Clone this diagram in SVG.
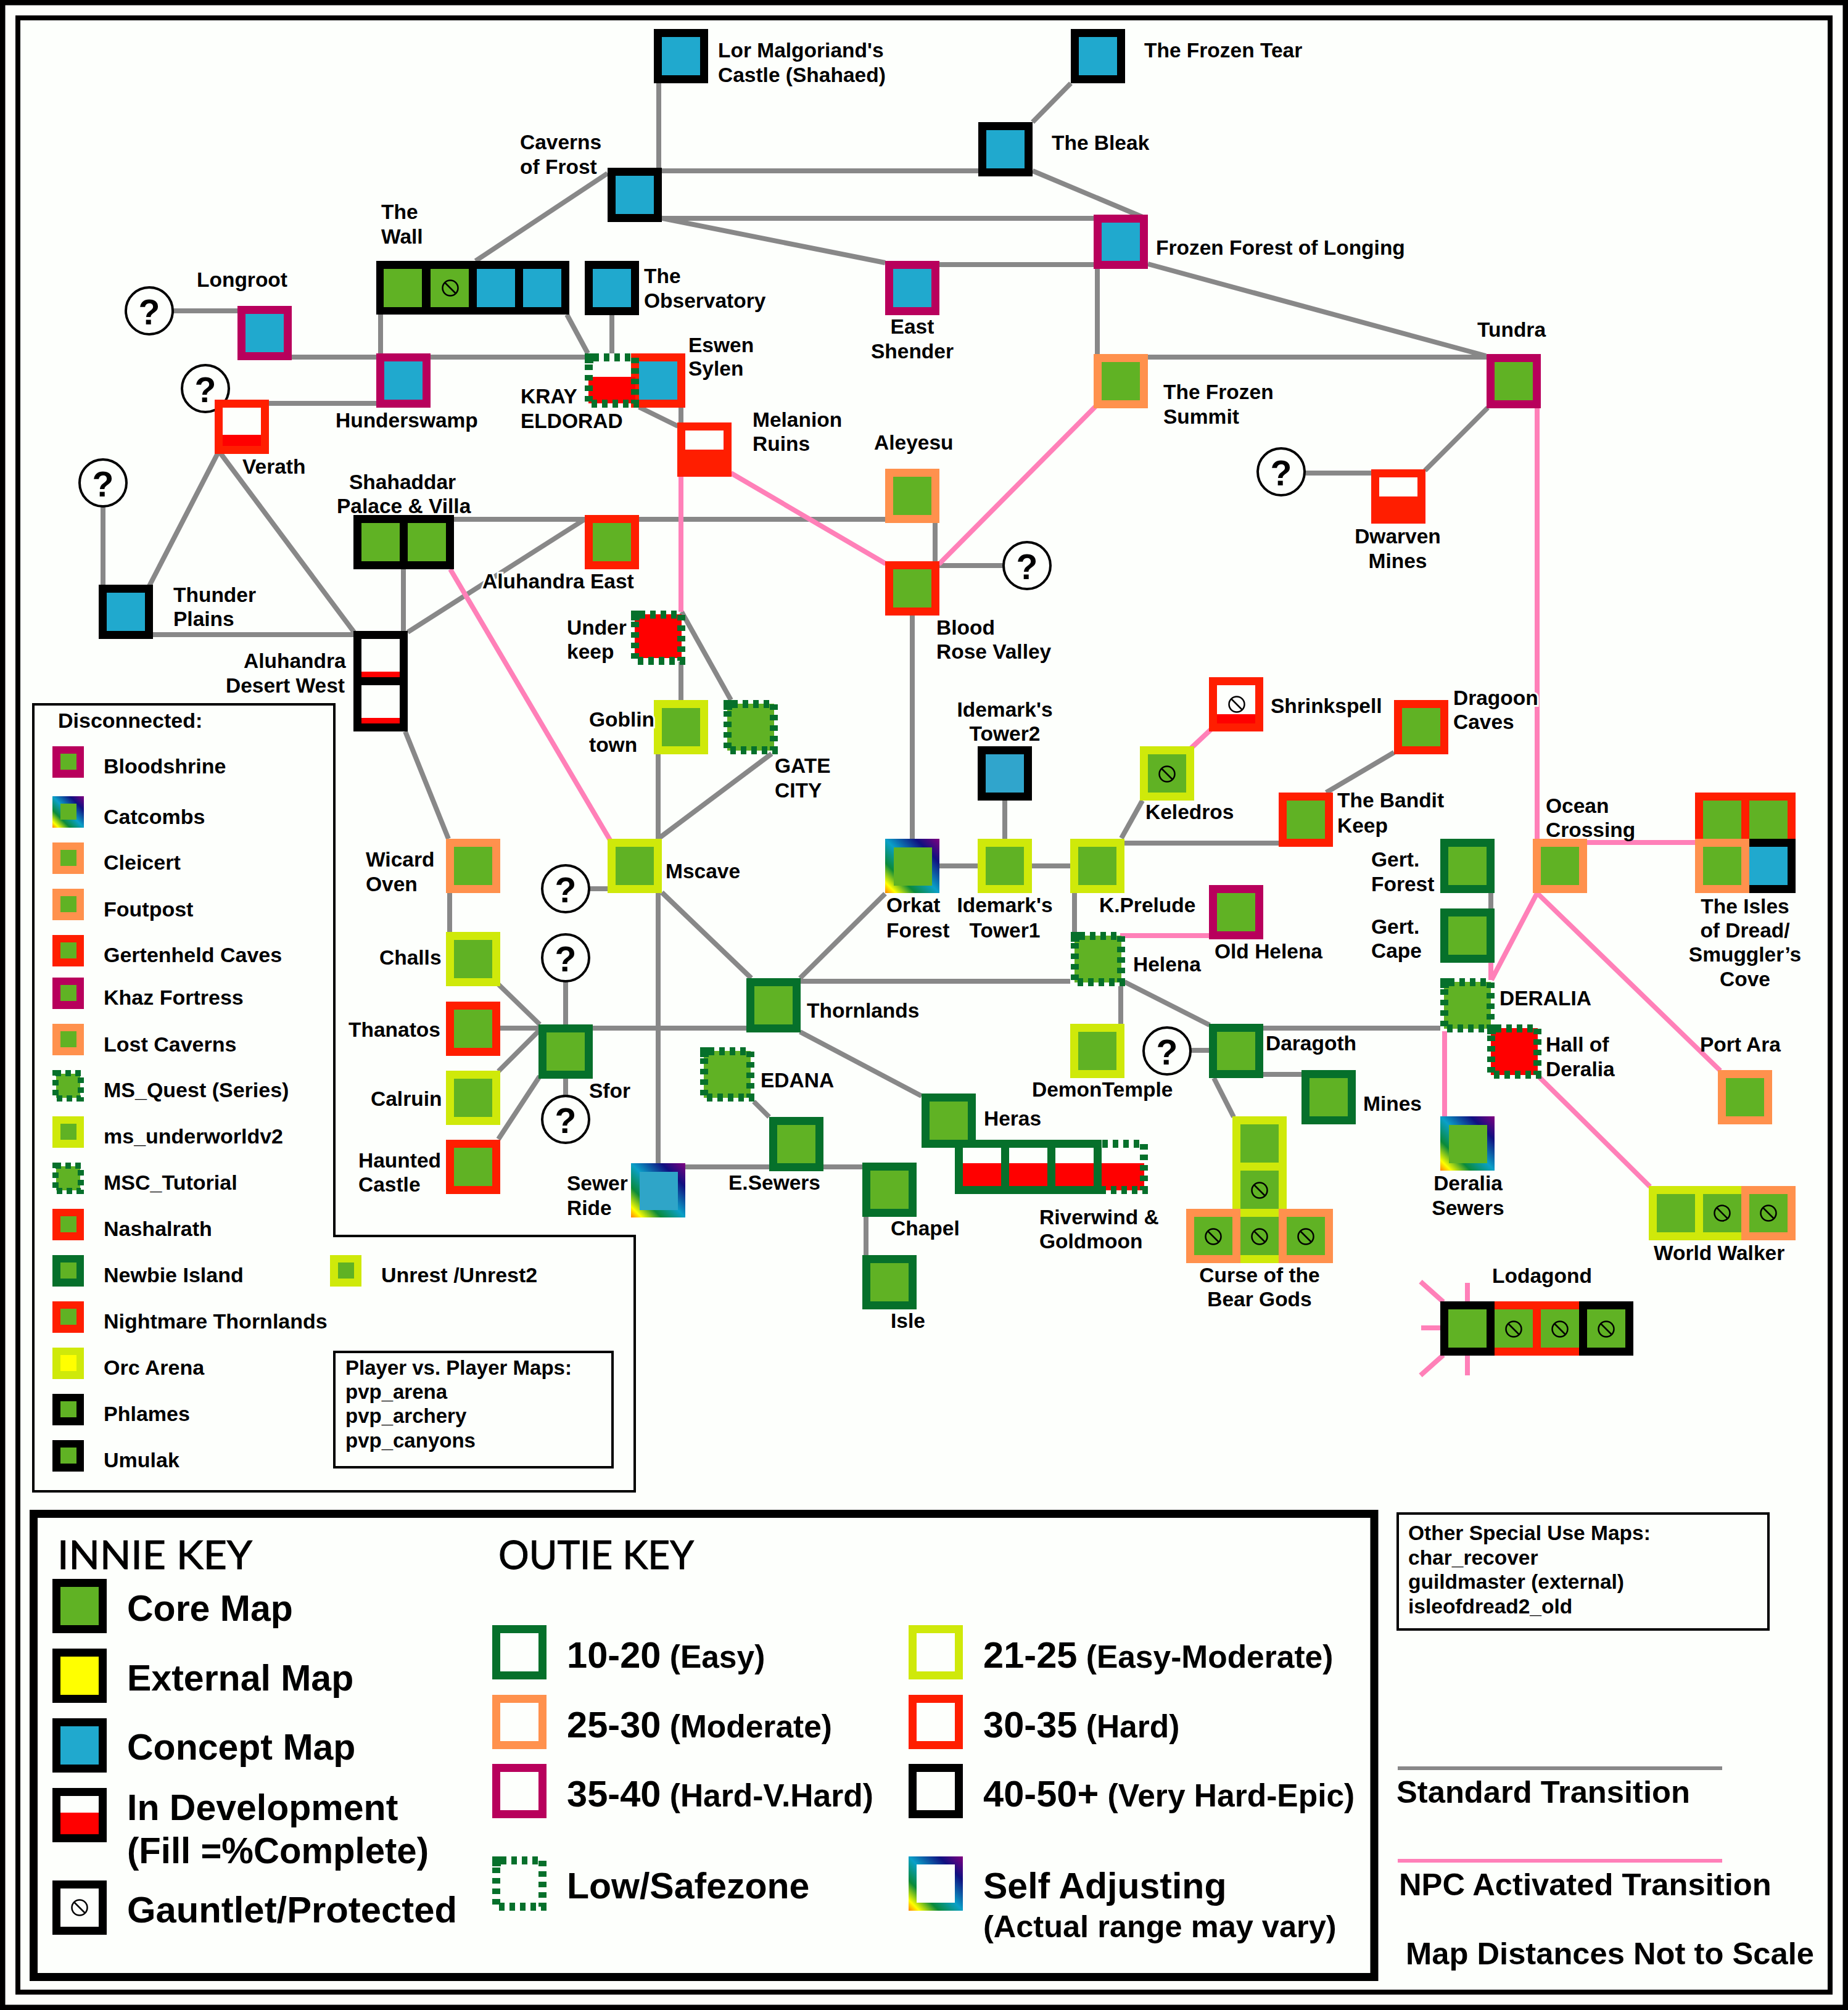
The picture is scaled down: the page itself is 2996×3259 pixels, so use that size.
<svg xmlns="http://www.w3.org/2000/svg" width="2996" height="3259" viewBox="0 0 2996 3259">
<style>
text{font-family:"Liberation Sans",Arial,sans-serif;font-weight:700;fill:#000;font-size:33.5px}
.c{text-anchor:middle}
.halo{paint-order:stroke;stroke:#fdfffc;stroke-width:6px}
.l{font-size:34px}
.p{font-size:33px}
.k{font-size:59px}
.n{font-size:59.6px}
.s{font-size:51.5px}
.a{font-size:50.5px}
.b{font-size:50.7px}
.hd{font-family:Lato,"Open Sans",sans-serif;font-weight:400;font-size:64px;stroke:#000;stroke-width:1px}
.q{font-size:57px;text-anchor:middle}
.o{width:88px;height:88px}
.i{width:62px;height:62px}
.lo{width:51px;height:51px}
.li{width:26px;height:26px}
.dg{fill:#06702b}.or{fill:#ff914d}.mg{fill:#b8005c}.rd{fill:#ff1e00}.lm{fill:#cfe90a}.bk{fill:#000}.rb{fill:url(#rb)}
.core{fill:#60b224}.blue{fill:#20a9ce}.white{fill:#fdfffc}.red{fill:#f00}.yel{fill:#ff0}
.d{width:75px;height:75px;fill:none;stroke:#06702b;stroke-width:13px;stroke-dasharray:9 8;stroke-dashoffset:9.5px}
.cn{width:14px;height:16px;fill:#06702b}
.dl{width:41px;height:41px;fill:none;stroke:#06702b;stroke-width:10px;stroke-dasharray:9 7}
.f{fill:none;stroke:#000;stroke-width:4px}
.qc{fill:#fdfffc;stroke:#000;stroke-width:4px}
#gray line{stroke:#888;stroke-width:8px}
#pink line{stroke:#ff80b8;stroke-width:8px}
.pl{stroke:#ff80b8;stroke-width:6px}
.gl{stroke:#888;stroke-width:6px}
</style>
<defs>
<linearGradient id="rb" x1="0" y1="1" x2="1" y2="0">
<stop offset="0" stop-color="#ff8000"/><stop offset=".1" stop-color="#ff0"/><stop offset=".28" stop-color="#0a8a3a"/><stop offset=".5" stop-color="#0aa0c8"/><stop offset=".78" stop-color="#101080"/><stop offset="1" stop-color="#800080"/>
</linearGradient>
<g id="ban"><circle r="12.5" fill="none" stroke="#000" stroke-width="2.5"/><line x1="-9" y1="-9" x2="9" y2="9" stroke="#000" stroke-width="2.5"/></g>
</defs>
<rect width="2996" height="3259" fill="#fdfffc"/>
<rect id="frame-outer" x="4" y="4" width="2988" height="3251" fill="none" stroke="#000" stroke-width="9"/>
<rect id="frame-inner" x="29" y="29" width="2938" height="3201" fill="none" stroke="#000" stroke-width="8"/>

<g id="connectors">
<g id="gray">
<line x1="1068" y1="91" x2="1068" y2="316"/>
<line x1="1736" y1="135" x2="1674" y2="198"/>
<line x1="1029" y1="277" x2="1630" y2="277"/>
<line x1="1029" y1="354" x2="1817" y2="354"/>
<line x1="1029" y1="345" x2="1435" y2="426"/>
<line x1="1522" y1="429" x2="1778" y2="429"/>
<line x1="1674" y1="277" x2="1855" y2="353"/>
<line x1="1779" y1="391" x2="1779" y2="600"/>
<line x1="1861" y1="428" x2="2409" y2="577"/>
<line x1="1817" y1="579" x2="2455" y2="579"/>
<line x1="2412" y1="661" x2="2310" y2="763"/>
<line x1="2116" y1="767" x2="2223" y2="767"/>
<line x1="771" y1="423" x2="985" y2="281"/>
<line x1="992" y1="490" x2="992" y2="573"/>
<line x1="919" y1="510" x2="953" y2="573"/>
<line x1="617" y1="500" x2="617" y2="600"/>
<line x1="280" y1="504" x2="400" y2="504"/>
<line x1="450" y1="579" x2="948" y2="579"/>
<line x1="420" y1="654" x2="620" y2="654"/>
<line x1="354" y1="733" x2="242" y2="950"/>
<line x1="356" y1="733" x2="574" y2="1025"/>
<line x1="167" y1="822" x2="167" y2="960"/>
<line x1="220" y1="1029" x2="580" y2="1029"/>
<line x1="720" y1="842" x2="1450" y2="842"/>
<line x1="948" y1="842" x2="661" y2="1025"/>
<line x1="654" y1="910" x2="654" y2="1030"/>
<line x1="1036" y1="660" x2="1099" y2="691"/>
<line x1="1104" y1="650" x2="1104" y2="700"/>
<line x1="1104" y1="1073" x2="1104" y2="1145"/>
<line x1="1105" y1="992" x2="1185" y2="1135"/>
<line x1="1067" y1="1210" x2="1067" y2="1900"/>
<line x1="1251" y1="1222" x2="1067" y2="1360"/>
<line x1="1516" y1="840" x2="1516" y2="920"/>
<line x1="1500" y1="917" x2="1630" y2="917"/>
<line x1="1479" y1="985" x2="1479" y2="1370"/>
<line x1="1510" y1="1404" x2="1750" y2="1404"/>
<line x1="1629" y1="1290" x2="1629" y2="1370"/>
<line x1="1818" y1="1359" x2="1852" y2="1298"/>
<line x1="1810" y1="1367" x2="2085" y2="1367"/>
<line x1="2150" y1="1285" x2="2260" y2="1220"/>
<line x1="1742" y1="1440" x2="1742" y2="1511"/>
<line x1="1280" y1="1591" x2="1735" y2="1591"/>
<line x1="1435" y1="1449" x2="1297" y2="1586"/>
<line x1="1817" y1="1599" x2="1817" y2="1670"/>
<line x1="1823" y1="1592" x2="1961" y2="1662"/>
<line x1="1925" y1="1703" x2="1970" y2="1703"/>
<line x1="2040" y1="1667" x2="2335" y2="1667"/>
<line x1="2040" y1="1742" x2="2120" y2="1742"/>
<line x1="1968" y1="1748" x2="2000" y2="1811"/>
<line x1="2417" y1="1440" x2="2417" y2="1480"/>
<line x1="808" y1="1596" x2="875" y2="1661"/>
<line x1="800" y1="1667" x2="1230" y2="1667"/>
<line x1="808" y1="1737" x2="875" y2="1670"/>
<line x1="808" y1="1847" x2="875" y2="1745"/>
<line x1="917" y1="1590" x2="917" y2="1670"/>
<line x1="917" y1="1740" x2="917" y2="1780"/>
<line x1="729" y1="1440" x2="729" y2="1520"/>
<line x1="657" y1="1186" x2="727" y2="1360"/>
<line x1="950" y1="1441" x2="1000" y2="1441"/>
<line x1="1073" y1="1447" x2="1218" y2="1586"/>
<line x1="1297" y1="1673" x2="1494" y2="1777"/>
<line x1="1222" y1="1786" x2="1247" y2="1811"/>
<line x1="1100" y1="1892" x2="1410" y2="1892"/>
<line x1="1404" y1="1960" x2="1404" y2="2045"/>
</g>
<g id="pink">
<line x1="730" y1="923" x2="989" y2="1362"/>
<line x1="1104" y1="765" x2="1104" y2="992"/>
<line x1="1185" y1="767" x2="1436" y2="914"/>
<line x1="1522" y1="915" x2="1778" y2="657"/>
<line x1="2492" y1="650" x2="2492" y2="1370"/>
<line x1="2560" y1="1366" x2="2760" y2="1366"/>
<line x1="2492" y1="1448" x2="2418" y2="1589"/>
<line x1="2492" y1="1448" x2="2789" y2="1736"/>
<line x1="2417" y1="1555" x2="2417" y2="1589"/>
<line x1="2342" y1="1672" x2="2342" y2="1820"/>
<line x1="2494" y1="1745" x2="2675" y2="1924"/>
<line x1="1931" y1="1213" x2="1964" y2="1182"/>
<line x1="1816" y1="1517" x2="1965" y2="1517"/>
<line x1="2303" y1="2078" x2="2340" y2="2111"/>
<line x1="2379" y1="2080" x2="2379" y2="2115"/>
<line x1="2304" y1="2153" x2="2340" y2="2153"/>
<line x1="2303" y1="2230" x2="2340" y2="2197"/>
<line x1="2379" y1="2195" x2="2379" y2="2230"/>
</g>
</g>

<g id="lor"><rect class="o bk" x="1060" y="47"/><rect class="i blue" x="1073" y="60"/><text x="1164" y="93">Lor Malgoriand's</text><text x="1164" y="133">Castle (Shahaed)</text></g>
<g id="frozen-tear"><rect class="o bk" x="1736" y="47"/><rect class="i blue" x="1749" y="60"/><text x="1855" y="93">The Frozen Tear</text></g>
<g id="bleak"><rect class="o bk" x="1586" y="198"/><rect class="i blue" x="1599" y="211"/><text x="1705" y="243">The Bleak</text></g>
<g id="caverns-frost"><rect class="o bk" x="985" y="272"/><rect class="i blue" x="998" y="285"/><text x="843" y="242">Caverns</text><text x="843" y="282">of Frost</text></g>
<g id="frozen-forest"><rect class="o mg" x="1773" y="348"/><rect class="i blue" x="1786" y="361"/><text x="1874" y="413">Frozen Forest of Longing</text></g>
<g id="wall"><rect x="610" y="423" width="313" height="87" class="bk"/><rect class="i core" x="622" y="436"/><rect class="i core" x="698" y="436"/><rect class="i blue" x="773" y="436"/><rect class="i blue" x="848" y="436"/><use href="#ban" x="730" y="467"/><text x="618" y="355">The</text><text x="618" y="395">Wall</text></g>
<g id="observatory"><rect class="o bk" x="948" y="423"/><rect class="i blue" x="961" y="436"/><text x="1044" y="459">The</text><text x="1044" y="499">Observatory</text></g>
<g id="east-shender"><rect class="o mg" x="1435" y="423"/><rect class="i blue" x="1448" y="436"/><text class="c" x="1479" y="541">East</text><text class="c" x="1479" y="581">Shender</text></g>
<g id="longroot"><rect class="o mg" x="385" y="496"/><rect class="i blue" x="398" y="509"/><text x="319" y="465">Longroot</text></g>
<g id="q1"><circle class="qc" cx="242" cy="504" r="38"/><text class="q" x="242" y="526">?</text></g>
<g id="hunderswamp"><rect class="o mg" x="610" y="573"/><rect class="i blue" x="623" y="586"/><text x="544" y="693">Hunderswamp</text></g>
<g id="eswen"><rect class="o rd" x="1023" y="573"/><rect class="i blue" x="1036" y="586"/><text x="1116" y="571">Eswen</text><text x="1116" y="609">Sylen</text></g>
<g id="kray"><rect x="954" y="611" width="76" height="43" class="red"/><rect class="d" x="954.5" y="579.5"/><rect class="cn" x="948" y="573"/><text x="844" y="654">KRAY</text><text x="844" y="694">ELDORAD</text></g>
<g id="frozen-summit"><rect class="o or" x="1773" y="574"/><rect class="i core" x="1786" y="587"/><text x="1886" y="647">The Frozen</text><text x="1886" y="687">Summit</text></g>
<g id="tundra"><rect class="o mg" x="2410" y="574"/><rect class="i core" x="2423" y="587"/><text x="2395" y="546">Tundra</text></g>
<g id="q2"><circle class="qc" cx="333" cy="630" r="38"/><text class="q" x="333" y="652">?</text></g>
<g id="verath"><rect class="o rd" x="348" y="648"/><rect class="i white" x="361" y="661"/><rect x="361" y="705" width="62" height="18" class="red"/><text x="393" y="768">Verath</text></g>
<g id="melanion"><rect class="o rd" x="1098" y="685"/><rect x="1111" y="698" width="62" height="31" class="white"/><text x="1220" y="692">Melanion</text><text x="1220" y="731">Ruins</text></g>
<g id="aleyesu"><rect class="o or" x="1435" y="760"/><rect class="i core" x="1448" y="773"/><text x="1417" y="729">Aleyesu</text></g>
<g id="dwarven"><rect class="o rd" x="2223" y="761"/><rect x="2236" y="774" width="62" height="31" class="white"/><text class="c" x="2266" y="881">Dwarven</text><text class="c" x="2266" y="921">Mines</text></g>
<g id="q3"><circle class="qc" cx="2077" cy="765" r="38"/><text class="q" x="2077" y="787">?</text></g>
<g id="q4"><circle class="qc" cx="167" cy="783" r="38"/><text class="q" x="167" y="805">?</text></g>
<g id="shahaddar"><rect x="573" y="835" width="163" height="88" class="bk"/><rect class="i core" x="586" y="848"/><rect class="i core" x="661" y="848"/><text x="566" y="793">Shahaddar</text><text x="546" y="832">Palace &amp; Villa</text></g>
<g id="aluhandra-east"><rect class="o rd" x="948" y="835"/><rect class="i core" x="961" y="848"/><text class="halo" x="782" y="954">Aluhandra East</text></g>
<g id="blood-rose"><rect class="o rd" x="1435" y="910"/><rect class="i core" x="1448" y="923"/><text x="1518" y="1029">Blood</text><text x="1518" y="1068">Rose Valley</text></g>
<g id="q5"><circle class="qc" cx="1665" cy="917" r="38"/><text class="q" x="1665" y="939">?</text></g>
<g id="thunder"><rect class="o bk" x="160" y="948"/><rect class="i blue" x="173" y="961"/><text x="281" y="976">Thunder</text><text x="281" y="1015">Plains</text></g>
<g id="aluhandra-west"><rect x="573" y="1023" width="88" height="163" class="bk"/><rect class="i white" x="586" y="1036"/><rect class="i white" x="586" y="1111"/><rect x="586" y="1089" width="62" height="9" class="red"/><rect x="586" y="1164" width="62" height="9" class="red"/><text x="395" y="1083">Aluhandra</text><text x="366" y="1123">Desert West</text></g>
<g id="under-keep"><rect x="1029" y="996" width="76" height="71" class="red"/><rect class="d" x="1029.5" y="996.5"/><rect class="cn" x="1023" y="990"/><text x="919" y="1029">Under</text><text x="919" y="1068">keep</text></g>
<g id="goblin"><rect class="o lm" x="1060" y="1135"/><rect class="i core" x="1073" y="1148"/><text class="halo" x="955" y="1178">Goblin</text><text x="955" y="1219">town</text></g>
<g id="gate-city"><rect x="1179" y="1141" width="76" height="76" class="core"/><rect class="d" x="1179.5" y="1141.5"/><rect class="cn" x="1173" y="1135"/><text x="1256" y="1253">GATE</text><text x="1256" y="1293">CITY</text></g>
<g id="shrinkspell"><rect class="o rd" x="1960" y="1098"/><rect class="i white" x="1973" y="1111"/><rect x="1973" y="1158" width="62" height="15" class="red"/><use href="#ban" x="2005" y="1142"/><text x="2060" y="1156">Shrinkspell</text></g>
<g id="dragoon"><rect class="o rd" x="2260" y="1135"/><rect class="i core" x="2273" y="1148"/><text class="halo" x="2356" y="1143">Dragoon</text><text x="2356" y="1182">Caves</text></g>
<g id="tower2"><rect class="o bk" x="1585" y="1210"/><rect class="i blue" x="1598" y="1223" style="fill:#30a5cc"/><text class="c" x="1629" y="1162">Idemark's</text><text class="c" x="1629" y="1201">Tower2</text></g>
<g id="keledros"><rect class="o lm" x="1848" y="1210"/><rect class="i core" x="1861" y="1223"/><use href="#ban" x="1892" y="1255"/><text x="1857" y="1328">Keledros</text></g>
<g id="bandit"><rect class="o rd" x="2073" y="1285"/><rect class="i core" x="2086" y="1298"/><text x="2168" y="1309">The Bandit</text><text x="2168" y="1350">Keep</text></g>
<g id="mscave"><rect class="o lm" x="985" y="1360"/><rect class="i core" x="998" y="1373"/><text x="1079" y="1424">Mscave</text></g>
<g id="wicard"><rect class="o or" x="723" y="1360"/><rect class="i core" x="736" y="1373"/><text x="593" y="1405">Wicard</text><text x="593" y="1445">Oven</text></g>
<g id="orkat"><rect class="o rb" x="1435" y="1360"/><rect class="i core" x="1449" y="1374"/><text x="1437" y="1479">Orkat</text><text x="1437" y="1520">Forest</text></g>
<g id="tower1"><rect class="o lm" x="1585" y="1360"/><rect class="i core" x="1598" y="1373"/><text class="c" x="1629" y="1479">Idemark's</text><text class="c" x="1629" y="1520">Tower1</text></g>
<g id="kprelude"><rect class="o lm" x="1735" y="1360"/><rect class="i core" x="1748" y="1373"/><text x="1782" y="1479">K.Prelude</text></g>
<g id="gert-forest"><rect class="o dg" x="2335" y="1360"/><rect class="i core" x="2348" y="1373"/><text x="2223" y="1405">Gert.</text><text x="2223" y="1445">Forest</text></g>
<g id="ocean"><rect class="o or" x="2485" y="1360"/><rect class="i core" x="2498" y="1373"/><text x="2506" y="1318">Ocean</text><text x="2506" y="1357">Crossing</text></g>
<g id="isles"><rect x="2748" y="1285" width="163" height="88" class="rd"/><rect x="2836" y="1360" width="75" height="88" class="bk"/><rect class="o or" x="2748" y="1360"/><rect class="i core" x="2761" y="1298"/><rect class="i core" x="2836" y="1298"/><rect class="i core" x="2761" y="1373"/><rect class="i blue" x="2836" y="1373"/><text class="c" x="2829" y="1481">The Isles</text><text class="c" x="2829" y="1520">of Dread/</text><text class="c" x="2829" y="1559">Smuggler’s</text><text class="c" x="2829" y="1599">Cove</text></g>
<g id="old-helena"><rect class="o mg" x="1960" y="1435"/><rect class="i core" x="1973" y="1448"/><text x="1969" y="1554">Old Helena</text></g>
<g id="q6"><circle class="qc" cx="917" cy="1441" r="38"/><text class="q" x="917" y="1463">?</text></g>
<g id="gert-cape"><rect class="o dg" x="2335" y="1473"/><rect class="i core" x="2348" y="1486"/><text x="2223" y="1514">Gert.</text><text x="2223" y="1553">Cape</text></g>
<g id="challs"><rect class="o lm" x="723" y="1511"/><rect class="i core" x="736" y="1524"/><text x="615" y="1564">Challs</text></g>
<g id="helena"><rect x="1742" y="1517" width="76" height="76" class="core"/><rect class="d" x="1742.5" y="1517.5"/><rect class="cn" x="1736" y="1511"/><text x="1837" y="1575">Helena</text></g>
<g id="q7"><circle class="qc" cx="917" cy="1553" r="38"/><text class="q" x="917" y="1575">?</text></g>
<g id="deralia"><rect x="2341" y="1592" width="76" height="76" class="core"/><rect class="d" x="2341.5" y="1592.5"/><rect class="cn" x="2335" y="1586"/><text x="2431" y="1630">DERALIA</text></g>
<g id="thornlands"><rect class="o dg" x="1210" y="1586"/><rect class="i core" x="1223" y="1599"/><text x="1308" y="1650">Thornlands</text></g>
<g id="thanatos"><rect class="o rd" x="723" y="1624"/><rect class="i core" x="736" y="1637"/><text x="565" y="1681">Thanatos</text></g>
<g id="sfor"><rect class="o dg" x="873" y="1661"/><rect class="i core" x="886" y="1674"/><text x="955" y="1780">Sfor</text></g>
<g id="demon"><rect class="o lm" x="1735" y="1660"/><rect class="i core" x="1748" y="1673"/><text x="1673" y="1778">DemonTemple</text></g>
<g id="q8"><circle class="qc" cx="1892" cy="1704" r="38"/><text class="q" x="1892" y="1726">?</text></g>
<g id="daragoth"><rect class="o dg" x="1960" y="1660"/><rect class="i core" x="1973" y="1673"/><text x="2052" y="1703">Daragoth</text></g>
<g id="hall"><rect x="2417" y="1667" width="76" height="76" class="red"/><rect class="d" x="2417.5" y="1667.5"/><rect class="cn" x="2411" y="1661"/><text x="2506" y="1705">Hall of</text><text x="2506" y="1745">Deralia</text></g>
<g id="edana"><rect x="1141" y="1704" width="76" height="76" class="core"/><rect class="d" x="1141.5" y="1704.5"/><rect class="cn" x="1135" y="1698"/><text x="1233" y="1763">EDANA</text></g>
<g id="mines"><rect class="o dg" x="2110" y="1735"/><rect class="i core" x="2123" y="1748"/><text x="2210" y="1801">Mines</text></g>
<g id="port-ara"><rect class="o or" x="2785" y="1735"/><rect class="i core" x="2798" y="1748"/><text x="2756" y="1705">Port Ara</text></g>
<g id="calruin"><rect class="o lm" x="723" y="1736"/><rect class="i core" x="736" y="1749"/><text x="601" y="1793">Calruin</text></g>
<g id="q9"><circle class="qc" cx="917" cy="1815" r="38"/><text class="q" x="917" y="1837">?</text></g>
<g id="e-sewers"><rect class="o dg" x="1247" y="1811"/><rect class="i core" x="1260" y="1824"/><text x="1181" y="1929">E.Sewers</text></g>
<g id="deralia-sewers"><rect class="o rb" x="2335" y="1810"/><rect class="i core" x="2349" y="1824"/><text class="c" x="2380" y="1930">Deralia</text><text class="c" x="2380" y="1970">Sewers</text></g>
<g id="haunted"><rect class="o rd" x="723" y="1848"/><rect class="i core" x="736" y="1861"/><text x="581" y="1893">Haunted</text><text x="581" y="1932">Castle</text></g>
<g id="riverwind"><rect x="1786" y="1886" width="69" height="44" class="red"/><rect class="d" x="1779.5" y="1854.5"/><rect x="1548" y="1848" width="238" height="88" class="dg"/><rect class="i white" x="1561" y="1861"/><rect class="i white" x="1636" y="1861"/><rect class="i white" x="1711" y="1861"/><rect x="1561" y="1886" width="62" height="37" class="red"/><rect x="1636" y="1886" width="62" height="37" class="red"/><rect x="1711" y="1886" width="62" height="37" class="red"/><text x="1685" y="1985">Riverwind &amp;</text><text x="1685" y="2024">Goldmoon</text></g>
<g id="heras"><rect class="o dg" x="1494" y="1773"/><rect class="i core" x="1507" y="1786"/><text x="1595" y="1825">Heras</text></g>
<g id="sewer-ride"><rect class="o rb" x="1023" y="1886"/><rect class="i blue" x="1037" y="1900" style="fill:#2fa5c8"/><text x="919" y="1930">Sewer</text><text x="919" y="1970">Ride</text></g>
<g id="chapel"><rect class="o dg" x="1398" y="1885"/><rect class="i core" x="1411" y="1898"/><text x="1444" y="2003">Chapel</text></g>
<g id="curse"><rect x="1998" y="1810" width="88" height="238" class="lm"/><rect class="o or" x="1923" y="1960"/><rect class="o or" x="2073" y="1960"/><rect class="i core" x="2011" y="1823"/><rect class="i core" x="2011" y="1898"/><rect class="i core" x="2011" y="1973"/><rect class="i core" x="1936" y="1973"/><rect class="i core" x="2086" y="1973"/><use href="#ban" x="2042" y="1930"/><use href="#ban" x="2042" y="2005"/><use href="#ban" x="1967" y="2005"/><use href="#ban" x="2117" y="2005"/><text class="c" x="2042" y="2079">Curse of the</text><text class="c" x="2042" y="2118">Bear Gods</text></g>
<g id="world-walker"><rect x="2673" y="1923" width="150" height="88" class="lm"/><rect x="2823" y="1923" width="88" height="88" class="or"/><rect class="i core" x="2686" y="1936"/><rect class="i core" x="2761" y="1936"/><rect class="i core" x="2836" y="1936"/><use href="#ban" x="2792" y="1967"/><use href="#ban" x="2867" y="1967"/><text x="2681" y="2043">World Walker</text></g>
<g id="isle"><rect class="o dg" x="1398" y="2035"/><rect class="i core" x="1411" y="2048"/><text x="1444" y="2153">Isle</text></g>
<g id="lodagond"><rect x="2335" y="2110" width="88" height="88" class="bk"/><rect x="2423" y="2110" width="137" height="88" class="rd"/><rect x="2560" y="2110" width="88" height="88" class="bk"/><rect class="i core" x="2348" y="2123"/><rect class="i core" x="2423" y="2123"/><rect class="i core" x="2498" y="2123"/><rect class="i core" x="2573" y="2123"/><use href="#ban" x="2454" y="2155"/><use href="#ban" x="2529" y="2155"/><use href="#ban" x="2604" y="2155"/><text x="2419" y="2080">Lodagond</text></g>

<g id="disconnected">
<path class="f" d="M54 1142H542V2004H1029V2418H54Z"/>
<text class="l" x="94" y="1180">Disconnected:</text>
<g id="d-bloodshrine"><rect class="lo mg" x="85" y="1210"/><rect class="li core" x="98" y="1222"/><text class="l" x="168" y="1254">Bloodshrine</text></g>
<g id="d-catcombs"><rect class="lo rb" x="85" y="1291"/><rect class="li core" x="98" y="1303"/><text class="l" x="168" y="1336">Catcombs</text></g>
<g id="d-cleicert"><rect class="lo or" x="85" y="1366"/><rect class="li core" x="98" y="1378"/><text class="l" x="168" y="1410">Cleicert</text></g>
<g id="d-foutpost"><rect class="lo or" x="85" y="1441"/><rect class="li core" x="98" y="1453"/><text class="l" x="168" y="1486">Foutpost</text></g>
<g id="d-gertenheld"><rect class="lo rd" x="85" y="1516"/><rect class="li core" x="98" y="1528"/><text class="l" x="168" y="1560">Gertenheld Caves</text></g>
<g id="d-khaz"><rect class="lo mg" x="85" y="1585"/><rect class="li core" x="98" y="1597"/><text class="l" x="168" y="1629">Khaz Fortress</text></g>
<g id="d-lost"><rect class="lo or" x="85" y="1660"/><rect class="li core" x="98" y="1672"/><text class="l" x="168" y="1705">Lost Caverns</text></g>
<g id="d-msquest"><rect x="91" y="1741" width="39" height="39" class="core"/><rect class="dl" x="90" y="1740"/><text class="l" x="168" y="1779">MS_Quest (Series)</text></g>
<g id="d-underworld"><rect class="lo lm" x="85" y="1810"/><rect class="li core" x="98" y="1822"/><text class="l" x="168" y="1854">ms_underworldv2</text></g>
<g id="d-msc"><rect x="91" y="1891" width="39" height="39" class="core"/><rect class="dl" x="90" y="1890"/><text class="l" x="168" y="1929">MSC_Tutorial</text></g>
<g id="d-nash"><rect class="lo rd" x="85" y="1960"/><rect class="li core" x="98" y="1972"/><text class="l" x="168" y="2004">Nashalrath</text></g>
<g id="d-newbie"><rect class="lo dg" x="85" y="2035"/><rect class="li core" x="98" y="2047"/><text class="l" x="168" y="2079">Newbie Island</text></g>
<g id="d-unrest"><rect class="lo lm" x="535" y="2035"/><rect class="li core" x="548" y="2047"/><text class="l" x="618" y="2079">Unrest /Unrest2</text></g>
<g id="d-nightmare"><rect class="lo rd" x="85" y="2110"/><rect class="li core" x="98" y="2122"/><text class="l" x="168" y="2154">Nightmare Thornlands</text></g>
<g id="d-orc"><rect class="lo lm" x="85" y="2185"/><rect class="li yel" x="98" y="2197"/><text class="l" x="168" y="2229">Orc Arena</text></g>
<g id="d-phlames"><rect class="lo bk" x="85" y="2260"/><rect class="li core" x="98" y="2272"/><text class="l" x="168" y="2304">Phlames</text></g>
<g id="d-umulak"><rect class="lo bk" x="85" y="2335"/><rect class="li core" x="98" y="2347"/><text class="l" x="168" y="2379">Umulak</text></g>
</g>
<g id="pvp"><rect class="f" x="542" y="2192" width="451" height="187"/><text class="p" x="560" y="2229">Player vs. Player Maps:</text><text class="p" x="560" y="2268">pvp_arena</text><text class="p" x="560" y="2307">pvp_archery</text><text class="p" x="560" y="2347">pvp_canyons</text></g>

<g id="key">
<rect x="54.5" y="2454.5" width="2173.5" height="751" fill="none" stroke="#000" stroke-width="13"/>
<text class="hd" x="93" y="2544" textLength="316" lengthAdjust="spacingAndGlyphs">INNIE KEY</text>
<text class="hd" x="808" y="2544" textLength="317" lengthAdjust="spacingAndGlyphs">OUTIE KEY</text>
<g id="k-core"><rect class="o bk" x="85" y="2560"/><rect class="i core" x="98" y="2573"/><text class="k" x="206" y="2628">Core Map</text></g>
<g id="k-ext"><rect class="o bk" x="85" y="2673"/><rect class="i yel" x="98" y="2686"/><text class="k" x="206" y="2741">External Map</text></g>
<g id="k-concept"><rect class="o bk" x="85" y="2786"/><rect class="i blue" x="98" y="2799"/><text class="k" x="206" y="2853">Concept Map</text></g>
<g id="k-dev"><rect class="o bk" x="85" y="2899"/><rect class="i white" x="98" y="2912"/><rect x="98" y="2939" width="62" height="35" class="red"/><text class="k" x="206" y="2951">In Development</text><text class="k" x="206" y="3021" textLength="489" lengthAdjust="spacingAndGlyphs">(Fill =%Complete)</text></g>
<g id="k-gauntlet"><rect class="o bk" x="85" y="3049"/><rect class="i white" x="98" y="3062"/><use href="#ban" x="129" y="3093"/><text class="k" x="206" y="3117" textLength="535" lengthAdjust="spacingAndGlyphs">Gauntlet/Protected</text></g>
<g id="o-1020"><rect class="o dg" x="798" y="2635"/><rect class="i white" x="811" y="2648"/><text x="919" y="2704"><tspan class="n">10-20</tspan><tspan class="s"> (Easy)</tspan></text></g>
<g id="o-2530"><rect class="o or" x="798" y="2748"/><rect class="i white" x="811" y="2761"/><text x="919" y="2817"><tspan class="n">25-30</tspan><tspan class="s"> (Moderate)</tspan></text></g>
<g id="o-3540"><rect class="o mg" x="798" y="2860"/><rect class="i white" x="811" y="2873"/><text x="919" y="2929"><tspan class="n">35-40</tspan><tspan class="s"> (Hard-V.Hard)</tspan></text></g>
<g id="o-low"><rect class="d" x="804.5" y="3016.5"/><rect class="cn" x="798" y="3010"/><text class="k" x="919" y="3078">Low/Safezone</text></g>
<g id="o-2125"><rect class="o lm" x="1473" y="2635"/><rect class="i white" x="1486" y="2648"/><text x="1594" y="2704"><tspan class="n">21-25</tspan><tspan class="s"> (Easy-Moderate)</tspan></text></g>
<g id="o-3035"><rect class="o rd" x="1473" y="2748"/><rect class="i white" x="1486" y="2761"/><text x="1594" y="2817"><tspan class="n">30-35</tspan><tspan class="s"> (Hard)</tspan></text></g>
<g id="o-4050"><rect class="o bk" x="1473" y="2860"/><rect class="i white" x="1486" y="2873"/><text x="1594" y="2929"><tspan class="n">40-50+</tspan><tspan class="s"> (Very Hard-Epic)</tspan></text></g>
<g id="o-self"><rect class="o rb" x="1473" y="3010"/><rect class="i white" x="1486" y="3023"/><text class="k" x="1594" y="3078">Self Adjusting</text><text class="a" x="1594" y="3141">(Actual range may vary)</text></g>
</g>
<g id="other"><rect class="f" x="2266" y="2454" width="601" height="188"/><text x="2283" y="2497">Other Special Use Maps:</text><text x="2283" y="2537">char_recover</text><text x="2283" y="2576">guildmaster (external)</text><text x="2283" y="2616">isleofdread2_old</text></g>
<g id="transition-key">
<line class="gl" x1="2266" y1="2867" x2="2792" y2="2867"/><text class="b" x="2264" y="2923">Standard Transition</text>
<line class="pl" x1="2266" y1="3017" x2="2792" y2="3017"/><text class="b" x="2268" y="3073">NPC Activated Transition</text>
<text class="b" x="2279" y="3185">Map Distances Not to Scale</text>
</g>
</svg>
